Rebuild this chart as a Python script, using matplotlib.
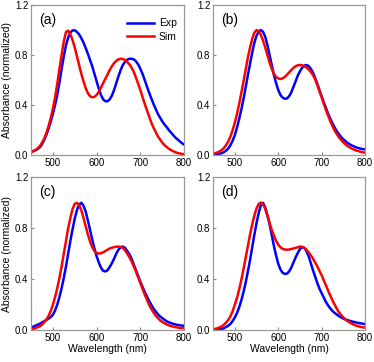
import numpy as np
import matplotlib
matplotlib.use("Agg")
import matplotlib.pyplot as plt

plt.rcParams['font.family'] = ['Liberation Sans', 'DejaVu Sans']

# wavelength grid (nm), 5 nm steps
wl = list(range(450, 801, 5))

# (a)
exp_a = [0.024, 0.03, 0.037, 0.047, 0.06, 0.085, 0.12, 0.16, 0.21, 0.265,
         0.33, 0.40, 0.48, 0.58, 0.69, 0.79, 0.88, 0.94, 0.98, 0.997,
         0.998, 0.985, 0.965, 0.935, 0.9, 0.857, 0.81, 0.76, 0.71, 0.65,
         0.59, 0.53, 0.48, 0.445, 0.43, 0.43, 0.445, 0.475, 0.52, 0.575,
         0.63, 0.68, 0.72, 0.745, 0.762, 0.77, 0.77, 0.765, 0.75, 0.725,
         0.69, 0.65, 0.6, 0.55, 0.5, 0.455, 0.41, 0.37, 0.33, 0.3,
         0.27, 0.245, 0.225, 0.2, 0.18, 0.16, 0.14, 0.125, 0.11, 0.095,
         0.084]
sim_a = [0.02, 0.03, 0.04, 0.053, 0.07, 0.097, 0.13, 0.175, 0.23, 0.295,
         0.37, 0.46, 0.57, 0.69, 0.80, 0.91, 0.985, 0.995, 0.965, 0.92,
         0.86, 0.79, 0.72, 0.65, 0.59, 0.535, 0.495, 0.47, 0.462, 0.465,
         0.48, 0.505, 0.54, 0.575, 0.61, 0.645, 0.68, 0.71, 0.735, 0.753,
         0.765, 0.77, 0.768, 0.76, 0.745, 0.725, 0.7, 0.665, 0.62, 0.57,
         0.52, 0.465, 0.41, 0.36, 0.31, 0.26, 0.22, 0.185, 0.15, 0.125,
         0.1, 0.08, 0.065, 0.05, 0.04, 0.03, 0.022, 0.016, 0.012, 0.008,
         0.005]

# (b)
exp_b = [0.0, 0.002, 0.005, 0.009, 0.015, 0.023, 0.035, 0.053, 0.08, 0.115,
         0.16, 0.22, 0.29, 0.365, 0.45, 0.545, 0.64, 0.73, 0.82, 0.9,
         0.955, 0.99, 1.0, 0.985, 0.945, 0.88, 0.8, 0.72, 0.64, 0.575,
         0.52, 0.48, 0.46, 0.45, 0.452, 0.47, 0.5, 0.545, 0.59, 0.635,
         0.67, 0.698, 0.715, 0.72, 0.712, 0.69, 0.66, 0.617, 0.57, 0.52,
         0.47, 0.42, 0.375, 0.33, 0.29, 0.253, 0.22, 0.19, 0.165, 0.143,
         0.125, 0.11, 0.095, 0.085, 0.075, 0.067, 0.06, 0.055, 0.05, 0.047,
         0.045]
sim_b = [0.01, 0.014, 0.02, 0.029, 0.04, 0.057, 0.08, 0.11, 0.15, 0.2,
         0.26, 0.33, 0.41, 0.5, 0.59, 0.685, 0.78, 0.86, 0.93, 0.98,
         1.0, 0.99, 0.96, 0.915, 0.86, 0.8, 0.74, 0.69, 0.65, 0.625,
         0.612, 0.608, 0.613, 0.625, 0.642, 0.66, 0.68, 0.697, 0.71, 0.718,
         0.72, 0.718, 0.71, 0.7, 0.685, 0.665, 0.64, 0.605, 0.56, 0.51,
         0.46, 0.41, 0.36, 0.315, 0.27, 0.232, 0.195, 0.167, 0.14, 0.12,
         0.1, 0.085, 0.07, 0.06, 0.05, 0.042, 0.035, 0.03, 0.025, 0.021,
         0.018]

# (c)
exp_c = [0.02, 0.027, 0.035, 0.042, 0.05, 0.06, 0.07, 0.08, 0.09, 0.103,
         0.12, 0.155, 0.2, 0.26, 0.33, 0.41, 0.5, 0.6, 0.7, 0.79,
         0.875, 0.94, 0.985, 0.998, 0.975, 0.93, 0.86, 0.785, 0.71, 0.64,
         0.58, 0.53, 0.49, 0.465, 0.46, 0.47, 0.495, 0.525, 0.56, 0.6,
         0.63, 0.65, 0.655, 0.645, 0.62, 0.595, 0.56, 0.515, 0.47, 0.425,
         0.38, 0.34, 0.3, 0.265, 0.23, 0.2, 0.17, 0.147, 0.125, 0.108,
         0.095, 0.082, 0.07, 0.062, 0.055, 0.05, 0.045, 0.041, 0.038, 0.036,
         0.034]
sim_c = [0.005, 0.01, 0.015, 0.022, 0.03, 0.043, 0.06, 0.082, 0.11, 0.15,
         0.2, 0.26, 0.33, 0.41, 0.5, 0.6, 0.7, 0.8, 0.88, 0.95,
         0.99, 0.998, 0.98, 0.94, 0.88, 0.815, 0.75, 0.695, 0.65, 0.62,
         0.605, 0.6, 0.603, 0.61, 0.62, 0.63, 0.64, 0.646, 0.65, 0.654,
         0.655, 0.652, 0.645, 0.625, 0.6, 0.572, 0.54, 0.5, 0.46, 0.415,
         0.37, 0.325, 0.28, 0.24, 0.2, 0.168, 0.14, 0.115, 0.095, 0.078,
         0.065, 0.055, 0.045, 0.038, 0.032, 0.028, 0.024, 0.021, 0.018, 0.016,
         0.015]

# (d)
exp_d = [0.0, 0.002, 0.005, 0.007, 0.01, 0.016, 0.025, 0.035, 0.05, 0.072,
         0.1, 0.135, 0.18, 0.235, 0.3, 0.375, 0.46, 0.55, 0.65, 0.75,
         0.84, 0.92, 0.98, 0.998, 0.96, 0.9, 0.83, 0.745, 0.66, 0.585,
         0.52, 0.475, 0.45, 0.44, 0.443, 0.46, 0.49, 0.53, 0.57, 0.605,
         0.635, 0.65, 0.645, 0.62, 0.58, 0.525, 0.47, 0.42, 0.37, 0.325,
         0.29, 0.255, 0.22, 0.193, 0.17, 0.15, 0.135, 0.122, 0.11, 0.1,
         0.09, 0.083, 0.078, 0.073, 0.068, 0.064, 0.06, 0.056, 0.053, 0.05,
         0.047]
sim_d = [0.005, 0.01, 0.015, 0.022, 0.03, 0.043, 0.06, 0.082, 0.11, 0.15,
         0.2, 0.255, 0.32, 0.395, 0.48, 0.57, 0.66, 0.75, 0.83, 0.9,
         0.955, 0.99, 1.0, 0.985, 0.95, 0.9, 0.84, 0.785, 0.74, 0.7,
         0.67, 0.65, 0.637, 0.632, 0.63, 0.632, 0.636, 0.64, 0.645, 0.65,
         0.655, 0.654, 0.645, 0.63, 0.61, 0.587, 0.56, 0.53, 0.5, 0.465,
         0.43, 0.39, 0.35, 0.31, 0.27, 0.233, 0.2, 0.168, 0.14, 0.118,
         0.1, 0.085, 0.07, 0.06, 0.05, 0.042, 0.035, 0.03, 0.025, 0.022,
         0.02]

panels = ['(a)', '(b)', '(c)', '(d)']
exp_all = [exp_a, exp_b, exp_c, exp_d]
sim_all = [sim_a, sim_b, sim_c, sim_d]

fig = plt.figure(figsize=(3.74, 3.62), dpi=100)
boxes = [[0.083, 0.572, 0.409, 0.414], [0.570, 0.572, 0.406, 0.414],
         [0.083, 0.088, 0.409, 0.423], [0.570, 0.088, 0.406, 0.423]]

for i in range(4):
    ax = fig.add_axes(boxes[i])
    ax.plot(wl, exp_all[i], color='#0000ff', lw=1.8, label='Exp')
    ax.plot(wl, sim_all[i], color='#ff0000', lw=1.8, label='Sim')
    ax.set_xlim(450, 800)
    ax.set_ylim(0, 1.2)
    ax.set_xticks([500, 600, 700, 800])
    ax.set_yticks([0.0, 0.4, 0.8, 1.2])
    ax.set_yticklabels(['0.0', '0.4', '0.8', '1.2'])
    ax.tick_params(direction='in', length=2.5, width=0.8, color='#888888',
                   labelsize=7, pad=2)
    for s in ax.spines.values():
        s.set_color('#999999')
        s.set_linewidth(0.9)
    ax.text(0.05, 0.95, panels[i], transform=ax.transAxes, fontsize=10,
            va='top', ha='left')
    if i % 2 == 0:
        ax.set_ylabel('Absorbance (normalized)', fontsize=7.5, labelpad=2)
    if i >= 2:
        ax.set_xlabel('Wavelength (nm)', fontsize=7.5, labelpad=1)
    if i == 0:
        ax.legend(loc='upper right', bbox_to_anchor=(1.0, 0.96), frameon=False,
                  fontsize=7.5, handlelength=2.6, handletextpad=0.5,
                  labelspacing=0.35, borderaxespad=0.3)

fig.savefig('out.png', dpi=100)
